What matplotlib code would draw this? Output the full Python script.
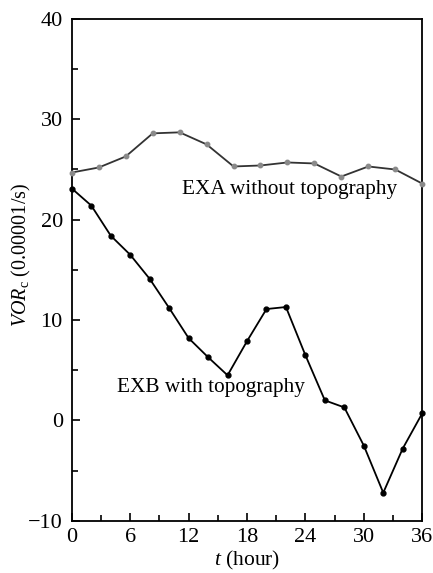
import numpy as np
import matplotlib
matplotlib.use("Agg")
import matplotlib.pyplot as plt
from matplotlib.ticker import MultipleLocator

plt.rcParams["font.family"] = ["Liberation Serif", "DejaVu Serif"]
plt.rcParams["mathtext.fontset"] = "custom"
plt.rcParams["mathtext.rm"] = "Liberation Serif"
plt.rcParams["mathtext.it"] = "Liberation Serif:italic"

# EXA: 14 samples over 0-36 h
exa_t = np.linspace(0, 36, 14)
exa_vor = [24.7, 25.2, 26.3, 28.6, 28.7, 27.5, 25.3, 25.4, 25.7, 25.6, 24.3, 25.3, 25.0, 23.6]

# EXB: every 2 h
exb_t = np.arange(0, 37, 2)
exb_vor = [23.1, 21.4, 18.4, 16.5, 14.1, 11.2, 8.2, 6.3, 4.5, 7.9, 11.1, 11.3,
           6.5, 2.0, 1.3, -2.5, -7.2, -2.8, 0.7]

fig = plt.figure(figsize=(4.33, 5.73), dpi=100)
ax = fig.add_axes([0.166, 0.091, 0.809, 0.876])

ax.plot(exa_t, exa_vor, color="#333333", lw=1.3, marker="o", ms=3.2,
        mfc="#8a8a8a", mec="#8a8a8a", clip_on=False, zorder=3)
ax.plot(exb_t, exb_vor, color="black", lw=1.3, marker="o", ms=3.5,
        mfc="black", mec="black", clip_on=False, zorder=3)

ax.text(22.4, 23.0, "EXA without topography", ha="center", va="center", fontsize=15.3)
ax.text(14.3, 3.3, "EXB with topography", ha="center", va="center", fontsize=15.3)

ax.set_xlim(0, 36)
ax.set_ylim(-10, 40)
ax.xaxis.set_major_locator(MultipleLocator(6))
ax.xaxis.set_minor_locator(MultipleLocator(3))
ax.yaxis.set_major_locator(MultipleLocator(10))
ax.yaxis.set_minor_locator(MultipleLocator(5))
ax.tick_params(which="both", direction="in", top=False, right=False, labelsize=16, width=1.2)
ax.tick_params(which="major", length=6)
ax.tick_params(which="minor", length=4)
ax.tick_params(axis="x", pad=5)
ax.tick_params(axis="y", pad=6.5)
ax.set_yticklabels(["\u221210" if v < 0 else f"{int(v)}" for v in ax.get_yticks()])
for s in ax.spines.values():
    s.set_linewidth(1.3)

ax.set_xlabel(r"$\it{t}$ (hour)", fontsize=15.5, labelpad=1.5)
ax.set_ylabel(r"$\it{VOR}_{\rm c}$ (0.00001/s)", fontsize=14.5)
ax.yaxis.set_label_coords(-0.11, 0.53)

fig.savefig("out.png", dpi=100)
